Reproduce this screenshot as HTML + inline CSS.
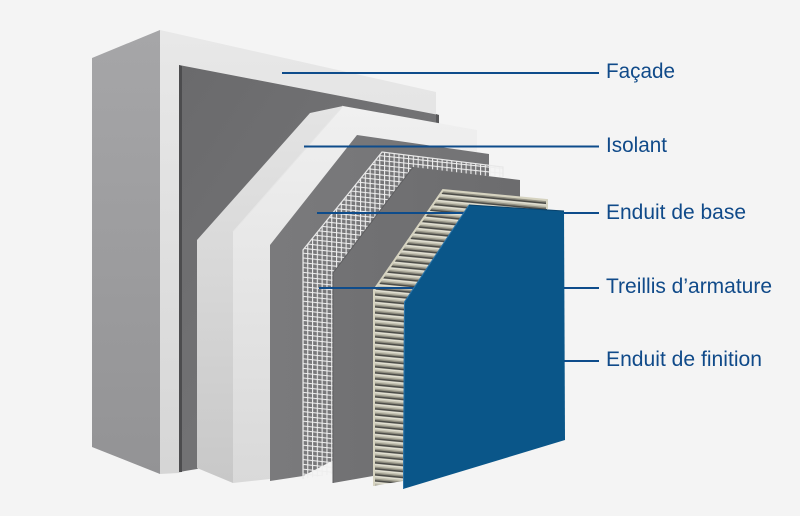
<!DOCTYPE html>
<html>
<head>
<meta charset="utf-8">
<style>
html,body{margin:0;padding:0;background:#f4f4f4;}
svg{display:block;}
</style>
</head>
<body>
<svg width="800" height="516" viewBox="0 0 800 516" xmlns="http://www.w3.org/2000/svg">
<defs>
  <linearGradient id="sideG" x1="0" y1="0" x2="0" y2="1">
    <stop offset="0" stop-color="#a6a6a8"/>
    <stop offset="1" stop-color="#939395"/>
  </linearGradient>
  <linearGradient id="frontLight" x1="0" y1="0" x2="0" y2="1">
    <stop offset="0" stop-color="#e8e8e8"/>
    <stop offset="1" stop-color="#d6d6d6"/>
  </linearGradient>
  <linearGradient id="darkG" x1="0" y1="0" x2="1" y2="1">
    <stop offset="0" stop-color="#6a6a6c"/>
    <stop offset="1" stop-color="#7a7a7c"/>
  </linearGradient>
  <linearGradient id="isoSide" x1="0" y1="0" x2="0" y2="1">
    <stop offset="0" stop-color="#e4e4e4"/>
    <stop offset="1" stop-color="#c8c8c8"/>
  </linearGradient>
  <linearGradient id="isoFront" x1="0" y1="0" x2="0" y2="1">
    <stop offset="0" stop-color="#f0f0f0"/>
    <stop offset="1" stop-color="#d9d9d9"/>
  </linearGradient>
  <linearGradient id="g1" x1="0" y1="0" x2="1" y2="0">
    <stop offset="0" stop-color="#7a7a7c"/>
    <stop offset="1" stop-color="#737375"/>
  </linearGradient>
  <linearGradient id="g2" x1="0" y1="0" x2="1" y2="0">
    <stop offset="0" stop-color="#727274"/>
    <stop offset="1" stop-color="#6c6c6e"/>
  </linearGradient>
  <pattern id="mesh" width="4.8" height="4.8" patternUnits="userSpaceOnUse" patternTransform="skewY(6)">
    <rect x="0" y="0" width="1.1" height="4.8" fill="#eeeeee"/>
    <rect x="0" y="0" width="4.8" height="1.05" fill="#eeeeee"/>
  </pattern>
  <pattern id="ribs" width="20" height="6" patternUnits="userSpaceOnUse" patternTransform="skewY(5.5)">
    <rect x="0" y="0" width="20" height="6" fill="#8f8d80"/>
    <rect x="0" y="0" width="20" height="1.6" fill="#4c4c48"/>
    <rect x="0" y="1.6" width="20" height="1.4" fill="#e4e2d4"/>
    <rect x="0" y="3" width="20" height="1.6" fill="#c6c4b4"/>
  </pattern>
</defs>

<rect x="0" y="0" width="800" height="516" fill="#f4f4f4"/>

<!-- Facade block -->
<polygon points="92,58 160,30 160,474 92,447" fill="url(#sideG)"/>
<polygon points="160,30 436,92 436,380 179,473 160,474" fill="url(#frontLight)"/>

<!-- dark adhesive layer -->
<polygon points="179,65 439,115 439,380 197,469 179,472" fill="url(#darkG)"/>
<polygon points="179,65 182,66 182,472 179,472" fill="#4c4c4e"/>
<polygon points="436,114 439,115 439,124 436,123" fill="#58585a"/>

<!-- Isolant -->
<polygon points="197,240 310,113 343,106 233,232 233,483 197,468" fill="url(#isoSide)"/>
<polygon points="343,106 477,130 477,380 270,479 233,483 233,232" fill="url(#isoFront)"/>
<line x1="343" y1="106" x2="233" y2="232" stroke="#e6e6e6" stroke-width="1"/>

<!-- Enduit de base (first coat) -->
<polygon points="357,135 489,154 489,380 303,476 270,481 270,245" fill="url(#g1)"/>

<!-- Mesh -->
<polygon points="382,152 503,167 503,390 333,474 303,479 303,250" fill="url(#mesh)"/>
<polyline points="303,479 303,250 382,152 503,167 503,177" fill="none" stroke="#e8e8e8" stroke-width="1.2"/>

<!-- Second coat -->
<polygon points="413,167 520,180 520,400 373,476 333,483 333,273" fill="url(#g2)"/>
<polyline points="333,483 333,273 413,167" fill="none" stroke="#5e5e60" stroke-width="1"/>

<!-- Ribbed layer -->
<polygon points="442,190 547,200 547,420 403,481 373,486 373,290" fill="url(#ribs)"/>
<polyline points="374,486 374,290 443,190 547,200 547,209" fill="none" stroke="#d6d3c0" stroke-width="2"/>

<!-- Connector lines (behind blue portion) -->
<g stroke="#0e4c8b" stroke-width="2" fill="none">
  <line x1="282" y1="73" x2="599" y2="73"/>
  <line x1="304" y1="146.5" x2="599" y2="146.5"/>
  <line x1="317" y1="213" x2="599" y2="213"/>
  <line x1="319" y1="288" x2="599" y2="288"/>
  <line x1="564" y1="361" x2="599" y2="361"/>
</g>

<!-- Blue finish -->
<polygon points="469,205 564,211 565,440 403,489 404,302" fill="#0a5689"/>
<polyline points="403.5,489 404.5,302 469,205" fill="none" stroke="#2c74a8" stroke-width="1"/>
<line x1="469" y1="205" x2="564" y2="211" stroke="#08426c" stroke-width="1"/>

<!-- Right side connector segments over blue edge -->
<g stroke="#0e4c8b" stroke-width="2">
  <line x1="564" y1="213" x2="599" y2="213"/>
  <line x1="564" y1="288" x2="599" y2="288"/>
  <line x1="564" y1="361" x2="599" y2="361"/>
</g>

<!-- Labels -->
<g font-family="Liberation Sans, Arial, sans-serif" font-size="21" fill="#104a89">
  <text x="606" y="78" textLength="69" lengthAdjust="spacingAndGlyphs">Façade</text>
  <text x="606" y="152" textLength="61" lengthAdjust="spacingAndGlyphs">Isolant</text>
  <text x="606" y="219" textLength="140" lengthAdjust="spacingAndGlyphs">Enduit de base</text>
  <text x="606" y="293" textLength="166" lengthAdjust="spacingAndGlyphs">Treillis d’armature</text>
  <text x="606" y="366" textLength="156" lengthAdjust="spacingAndGlyphs">Enduit de finition</text>
</g>
</svg>
</body>
</html>
